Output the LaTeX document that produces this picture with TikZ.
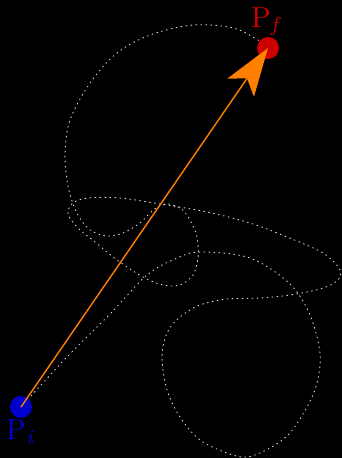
\documentclass[tikz,border=0pt]{standalone}
\usepackage{graphicx}
\usetikzlibrary{arrows.meta}
\definecolor{ptblue}{RGB}{0,0,204}
\definecolor{ptred}{RGB}{204,0,0}
\definecolor{vecorange}{RGB}{255,128,0}
\definecolor{trajgray}{RGB}{220,220,220}
\newcommand{\ptname}[1]{\scalebox{2.9}{\fontsize{10}{12}\selectfont P\raisebox{-1.5pt}{\fontsize{7}{8}\selectfont\itshape #1}}}
\tikzset{
  traj/.style={draw=trajgray, line width=0.9pt, dash pattern=on 0.9pt off 4.1pt, line cap=round},
  ptdot/.style={circle, inner sep=0pt, minimum size=22pt},
  vecarrow/.style={draw=vecorange, line width=1.4pt, -{Stealth[length=48pt, width=32pt, inset=11pt]}},
  ptlabel/.style={inner sep=0pt, anchor=base west}
}
\begin{document}
\begin{tikzpicture}[x=1pt,y=-1pt]
\fill[black] (0,0) rectangle (342,458);
\useasboundingbox (0,0) rectangle (342,458);
\draw[traj] plot[smooth, tension=0.55] coordinates {
 (21,407) (67,357) (110,314) (147,275) (175,259) (200,252) (250,258) (290,284)
 (310,315) (320,353) (317,383) (307,407) (290,433) (270,448) (247,457) (227,453)
 (200,440) (180,417) (167,390) (162,357) (167,333) (180,317) (200,305) (227,299)
 (260,298) (290,295) (320,289) (337,281) (340,270) (323,253) (287,237) (250,223)
 (207,212) (160,204) (120,198) (88,198) (73,203) (68,214) (78,228) (95,242)
 (117,260) (143,277) (163,285) (180,285) (193,275) (198,258) (197,237) (190,220)
 (180,208) (165,204) (152,211) (140,223) (123,233) (107,236) (90,230) (78,215)
 (71,198) (67,180) (65,153) (70,120) (90,83) (117,53) (150,35) (193,25)
 (233,28) (258,40) (268,48)};
\node[ptdot, fill=ptblue] (pi) at (21,407) {};
\node[ptdot, fill=ptred] (pf) at (268,48) {};
\draw[vecarrow] (pi.center) -- (pf.center);
\node[ptlabel, text=ptblue] (li) at (6,439) {\ptname{i}};
\node[ptlabel, text=ptred] (lf) at (251,27) {\ptname{f}};
\end{tikzpicture}
\end{document}
